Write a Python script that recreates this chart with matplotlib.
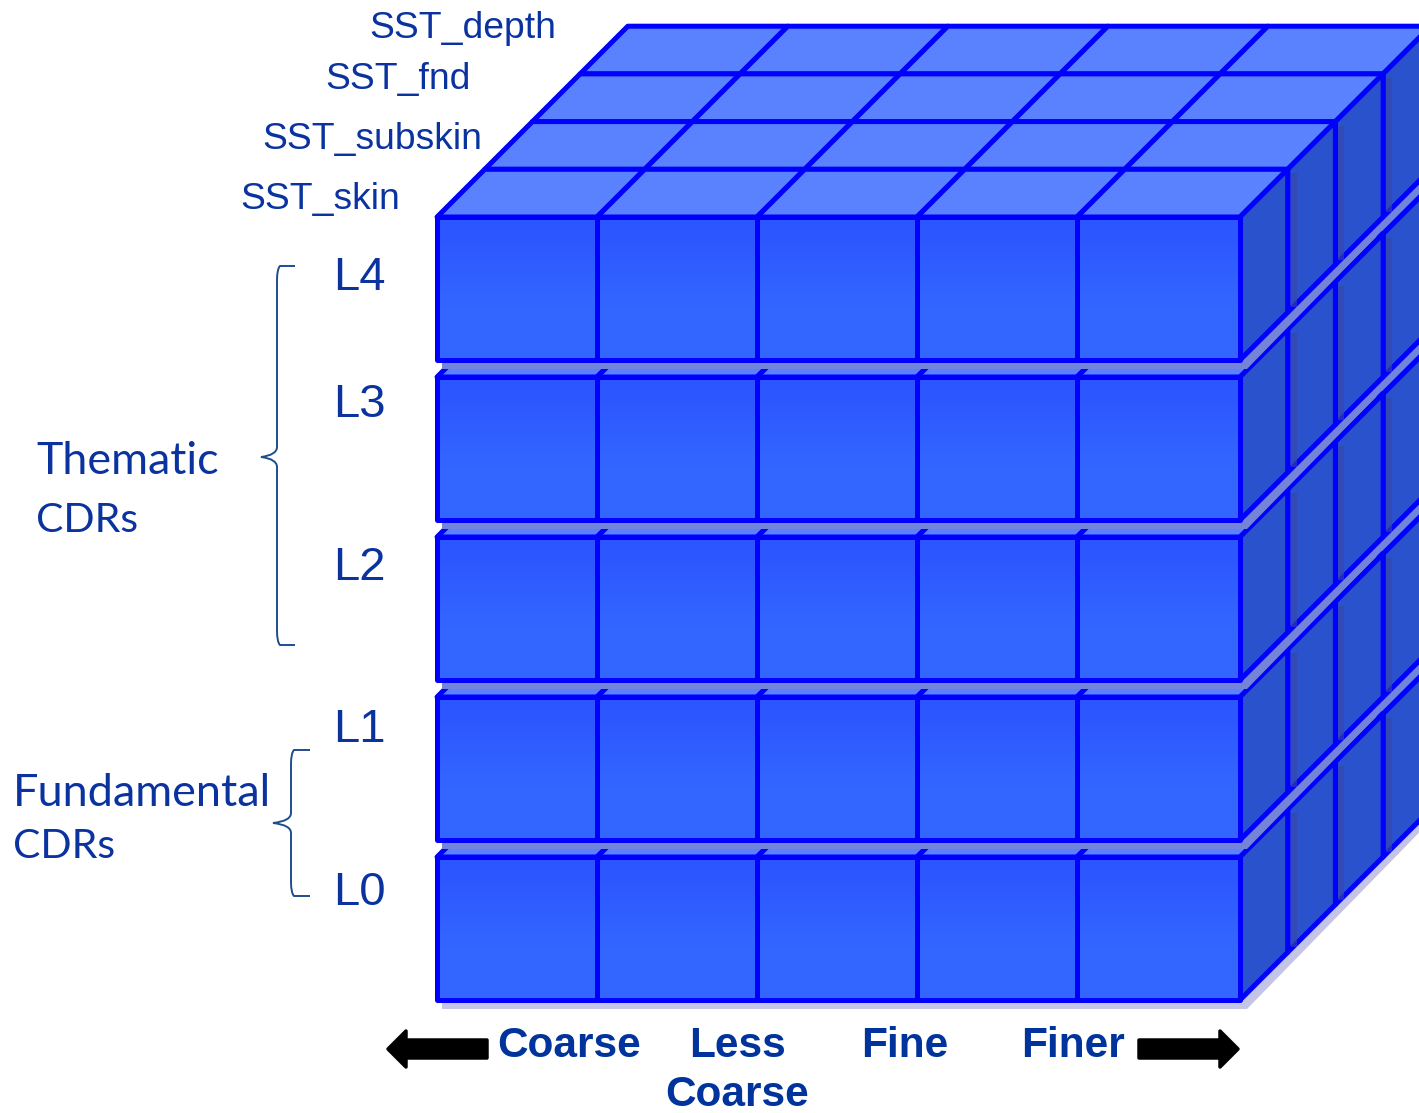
import matplotlib
matplotlib.use("Agg")
import matplotlib.pyplot as plt
import numpy as np
from matplotlib.patches import Polygon, PathPatch
from matplotlib.path import Path
from matplotlib.colors import LinearSegmentedColormap

plt.rcParams["hatch.color"] = "#3c3c90"
plt.rcParams["hatch.linewidth"] = 0.3

# data
levels = ["L4", "L3", "L2", "L1", "L0"]
products = ["SST_skin", "SST_subskin", "SST_fnd", "SST_depth"]
resolutions = ["Coarse", "Less\nCoarse", "Fine", "Finer"]
n_cols = 5

# layout, in pixels of the picture
col_x = [437, 597, 757, 917, 1077, 1240]
row_top = [217, 377, 537, 697, 857]
row_h = 143
depth = 47.7
line_c = "#0000ff"
top_c = "#5a82ff"
side_c = "#2a52cc"
text_c = "#0a33a0"
brace_c = "#1f4e8c"
lw = 3.6

fig = plt.figure(figsize=(14.19, 11.13), dpi=100)
ax = fig.add_axes([0, 0, 1, 1])
grad = LinearSegmentedColormap.from_list("front", ["#2c56ff", "#3366ff"])
gy = np.array([[0.0], [0.55], [1.0], [1.0]])


def quad(pts, fc, z):
    ax.add_patch(Polygon(pts, closed=True, fc=fc, ec=line_c, lw=lw, joinstyle="round", zorder=z))


def shadow(y, z, fc):
    x0 = col_x[0] + 5
    x1 = col_x[-1]
    k = depth * 5
    pts = [(x0, y + 3), (x1, y + 3), (x1 + k, y + 3 - k), (x1 + k + 7, y + 3 - k), (x1 + 7, y + 9), (x0, y + 9)]
    ax.add_patch(Polygon(pts, closed=True, fc=fc, ec="none", hatch="......", lw=0, zorder=z))


# painter's order, bottom row first
z = 1
for r in range(len(levels) - 1, -1, -1):
    t = row_top[r]
    b = t + row_h
    if r == len(levels) - 1:
        shadow(b, z, "#c4c4e6")
        z += 1
    # top faces, back to front
    for d in range(len(products) - 1, -1, -1):
        for c in range(n_cols):
            x0, x1 = col_x[c], col_x[c + 1]
            quad([(x0 + d * depth, t - d * depth), (x1 + d * depth, t - d * depth),
                  (x1 + (d + 1) * depth, t - (d + 1) * depth), (x0 + (d + 1) * depth, t - (d + 1) * depth)], top_c, z)
            z += 1
    # right side
    for d in range(len(products) - 1, -1, -1):
        x0 = col_x[-1] + d * depth
        quad([(x0, t - d * depth), (x0 + depth, t - (d + 1) * depth),
              (x0 + depth, b - (d + 1) * depth), (x0, b - d * depth)], side_c, z)
        z += 1
        if d > 0:
            ax.fill_between([x0 + 3, x0 + 9], t - d * depth + 4, b - d * depth - 5,
                            color="#3a45a8", alpha=0.6, lw=0, zorder=z)
            z += 1
    # front
    for c in range(n_cols):
        ax.imshow(gy, cmap=grad, aspect="auto", extent=(col_x[c], col_x[c + 1], b, t),
                  interpolation="bilinear", zorder=z)
        z += 1
        quad([(col_x[c], t), (col_x[c + 1], t), (col_x[c + 1], b), (col_x[c], b)], "none", z)
        z += 1
    # shadow of the next row up, falls on this row's top
    if r > 0:
        shadow(row_top[r - 1] + row_h, z, "#7484d8")
        z += 1

zt = z + 1
for name, x, y in zip(products, [240, 262, 325, 369], [199, 140, 80, 28]):
    ax.text(x, y, name, fontsize=26.8, color=text_c, family="Liberation Sans", va="center", ha="left", zorder=zt)

for name, y in zip(levels, [278, 405, 568, 730, 893]):
    ax.text(333, y, name, fontsize=34, color=text_c, family="Liberation Sans", va="center", ha="left", zorder=zt)

ax.text(36, 462, "Thematic", fontsize=32.3, color=text_c, family="Lato", va="center", zorder=zt)
ax.text(36, 520, "CDRs", fontsize=29.5, color=text_c, family="Lato", va="center", zorder=zt)
ax.text(13, 793, "Fundamental", fontsize=32.4, color=text_c, family="Lato", va="center", zorder=zt)
ax.text(13, 847, "CDRs", fontsize=29.5, color=text_c, family="Lato", va="center", zorder=zt)

for name, x in zip(resolutions, [569, 737, 905, 1073]):
    ax.text(x, 1026, name, fontsize=30.5, color="#00339c", family="Liberation Sans", weight="bold",
            ha="center", va="top", linespacing=1.28, zorder=zt)


def brace(x, top, bot, tip_l, tip_r, mid):
    verts = [(tip_r, top), (x + 3, top), (x, top + 3), (x, top + 14),
             (x, mid - 10), (x, mid - 2), (tip_l, mid), (x, mid + 2), (x, mid + 10),
             (x, bot - 14), (x, bot - 3), (x + 3, bot), (tip_r, bot)]
    codes = [Path.MOVETO, Path.LINETO, Path.CURVE3, Path.CURVE3, Path.LINETO,
             Path.CURVE3, Path.CURVE3, Path.CURVE3, Path.CURVE3, Path.LINETO,
             Path.CURVE3, Path.CURVE3, Path.LINETO]
    ax.add_patch(PathPatch(Path(verts, codes), fc="none", ec=brace_c, lw=1.4, zorder=zt))


brace(277, 266, 645, 261, 295, 457)
brace(291, 750, 896, 273, 310, 823)

# resolution arrows
for tail, neck, tip in [(487, 406, 388), (1139, 1220, 1238)]:
    ax.add_patch(Polygon([(tail, 1040), (neck, 1040), (neck, 1031), (tip, 1049), (neck, 1067), (neck, 1058), (tail, 1058)],
                         closed=True, fc="black", ec="black", lw=2.5, joinstyle="round", zorder=zt))

ax.set_xlim(0, 1419)
ax.set_ylim(1113, 0)
ax.axis("off")
fig.savefig("out.png", dpi=100, facecolor="white")
